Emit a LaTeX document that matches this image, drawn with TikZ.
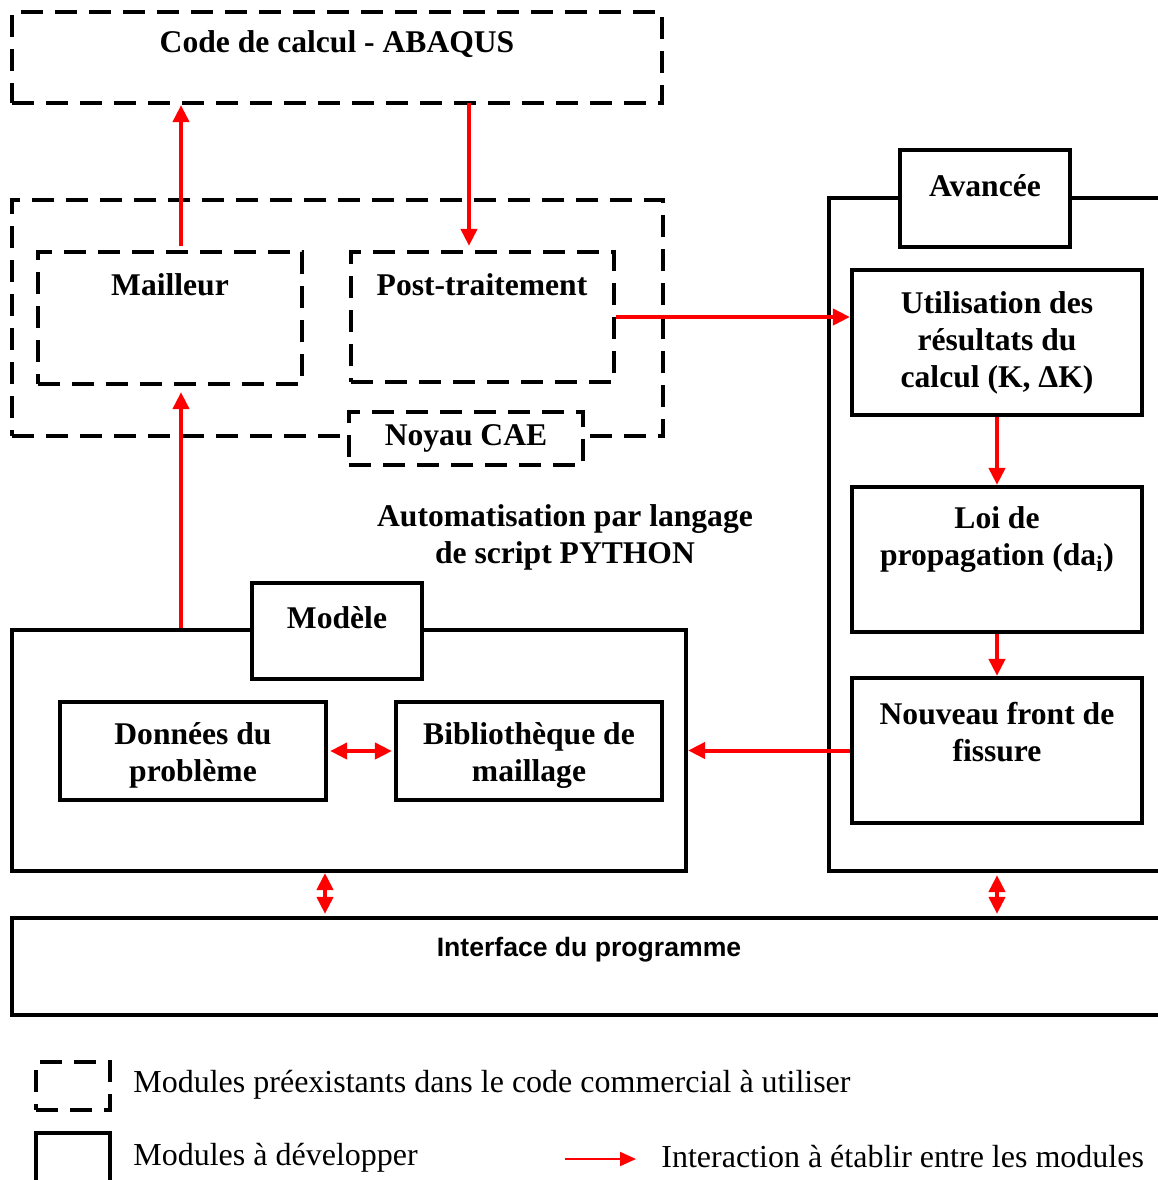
\documentclass[tikz,border=0pt]{standalone}
\usepackage{fontspec}
\setmainfont{Liberation Serif}
\setsansfont{Liberation Sans}
\usetikzlibrary{positioning,arrows.meta,fit}
\tikzset{
  pre/.style={draw=black,line width=2.1pt,dash pattern=on 11pt off 6pt,inner sep=0pt},
  dev/.style={draw=black,line width=2.1pt,inner sep=0pt},
  lbl/.style={font=\fontsize{15.8}{18.5}\selectfont\bfseries,align=center,inner sep=0pt},
  key/.style={font=\fontsize{16}{18}\selectfont,anchor=west,inner sep=0pt},
  link/.style={draw=red,line width=2pt,-{Triangle[width=8pt,length=8.5pt]}},
  both/.style={link,{Triangle[width=8pt,length=8.5pt]}-{Triangle[width=8pt,length=8.5pt]}},
}

\begin{document}
\begin{tikzpicture}[x=0.5pt,y=-0.5pt]
  \clip (0,0) rectangle (1158,1180);
  % commercial code
  \node[pre,fit={(12,12)(662,103)}] (abaqus) {};
  \node[lbl] at (337,44) {Code de calcul - ABAQUS};
  \node[pre,fit={(12,200)(663,436)}] (noyau) {};
  \node[pre,fit={(38,252)(302,384)}] (mailleur) {};
  \node[lbl] at (170,285) {Mailleur};
  \node[pre,fit={(351,252)(614,382)}] (post) {};
  \node[lbl] at (482,285) {Post-traitement};
  \node[pre,fill=white,fit={(349,412)(583,465)}] (cae) {};
  \node[lbl] at (466,438) {Noyau CAE};
  \node[lbl] (python) at (565,537) {Automatisation par langage\\de script PYTHON};
  % model
  \node[dev,fit={(12,630)(686,871)}] (modele) {};
  \node[dev,fill=white,fit={(252,583)(422,679)}] (modlbl) {};
  \node[lbl] at (337,618) {Modèle};
  \node[dev,fit={(60,702)(326,800)}] (donnees) {};
  \node[lbl] at (193,755) {Données du\\problème};
  \node[dev,fit={(396,702)(662,800)}] (biblio) {};
  \node[lbl] at (529,755) {Bibliothèque de\\maillage};
  % crack advance
  \node[dev,fit={(829,198)(1190,871)}] (avancee) {};
  \node[dev,fill=white,fit={(900,150)(1070,247)}] (avlbl) {};
  \node[lbl] at (985,186) {Avancée};
  \node[dev,fit={(852,270)(1142,415)}] (util) {};
  \node[lbl] at (997,343) {Utilisation des\\résultats du\\calcul (K, ΔK)};
  \node[dev,fit={(852,487)(1142,632)}] (loi) {};
  \node[lbl] at (997,540) {Loi de\\propagation (da\textsubscript{i})};
  \node[dev,fit={(852,678)(1142,823)}] (front) {};
  \node[lbl] at (997,732) {Nouveau front de\\fissure};
  % interface
  \node[dev,fit={(12,918)(1190,1015)}] (interface) {};
  \node[lbl,font=\fontsize{13.3}{15}\selectfont\sffamily\bfseries] at (589,950) {Interface du programme};
  % interactions
  \coordinate (m1) at ([xshift=5.5pt]mailleur.north);
  \coordinate (a1) at (469,103);
  \coordinate (d1) at (325,871);
  \draw[link] ([yshift=2pt]m1) -- (m1 |- abaqus.south);
  \draw[link] (a1) -- ([yshift=2pt]a1 |- post.north);
  \draw[link] (post.east) -- (post.east -| util.west);
  \draw[link,shorten >=3pt] (m1 |- modele.north) -- (m1 |- mailleur.south);
  \draw[both,shorten <=1pt,shorten >=1pt] (donnees.east) -- (biblio.west);
  \draw[link] (front.west) -- (front.west -| modele.east);
  \draw[link] (util.south) -- (loi.north);
  \draw[link] (loi.south) -- (front.north);
  \draw[both,shorten <=1pt,shorten >=1pt] (d1) -- (d1 |- interface.north);
  \draw[both,shorten <=1pt,shorten >=1pt] (avancee.south -| util.south) -- (interface.north -| util.south);
  % legend
  \node[pre,fit={(36,1062)(110,1110)}] (keypre) {};
  \node[key] at (133,1085) {Modules préexistants dans le code commercial à utiliser};
  \node[dev,fit={(36,1133)(110,1200)}] (keydev) {};
  \node[key] at (133,1158) {Modules à développer};
  \coordinate (k1) at (565,1159);
  \coordinate (k2) at (636,1159);
  \draw[link,line width=1pt,-{Triangle[width=7pt,length=8pt]}] (k1) -- (k2);
  \node[key] at (661,1157) {Interaction à établir entre les modules};
\end{tikzpicture}
\end{document}
